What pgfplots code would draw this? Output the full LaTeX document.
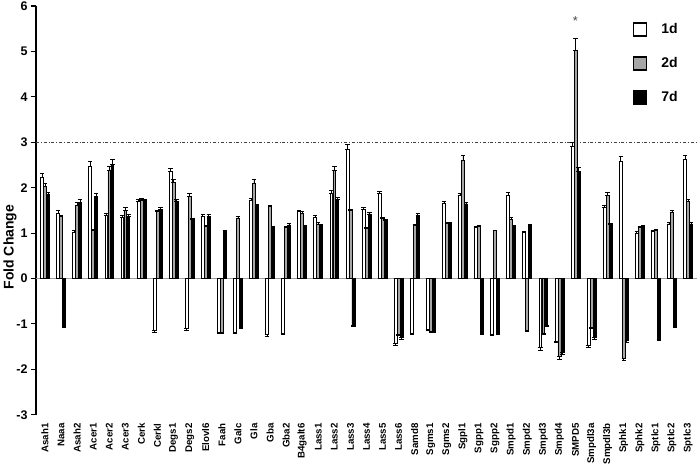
\documentclass[border=0pt]{standalone}
\usepackage{pgfplots}
\pgfplotsset{compat=1.18}
\usepackage{pgfplotstable}
\usepackage{fontspec}
\setmainfont{Liberation Sans}
\definecolor{bargray}{RGB}{166,166,166}
\definecolor{zerogray}{RGB}{160,160,160}

% x = gene index, y = fold change, ep/em = error up/down
\pgfplotstableread{
x y ep em
0 2.22 0.10 0
1 1.43 0.08 0
2 1.02 0.05 0
3 2.48 0.10 0
4 1.38 0.05 0
5 1.35 0.04 0
6 1.70 0.04 0
7 -1.15 0 0.03
8 2.35 0.08 0
9 -1.10 0 0.04
10 1.37 0.04 0
11 -1.18 0 0.03
12 -1.18 0 0.03
13 1.72 0.04 0
14 -1.24 0 0.03
15 -1.21 0 0.03
16 1.47 0.04 0
17 1.35 0.04 0
18 1.88 0.05 0
19 2.84 0.12 0
20 1.52 0.05 0
21 1.87 0.05 0
22 -1.43 0 0.04
23 -1.21 0 0.02
24 -1.12 0 0.02
25 1.65 0.05 0
26 1.83 0.05 0
27 1.13 0.02 0
28 -1.22 0 0.03
29 1.83 0.06 0
30 1.02 0.02 0
31 -1.52 0 0.06
32 -1.38 0 0.03
33 2.90 0.10 0
34 -1.47 0 0.04
35 1.57 0.05 0
36 2.58 0.12 0
37 1.00 0.03 0
38 1.03 0.02 0
39 1.20 0.03 0
40 2.62 0.10 0
}\tA

\pgfplotstableread{
x y ep em
0 2.02 0.08 0
1 1.36 0.03 0
2 1.62 0.06 0
3 1.05 0.03 0
4 2.38 0.10 0
5 1.50 0.06 0
6 1.73 0.04 0
7 1.47 0.03 0
8 2.12 0.06 0
9 1.80 0.08 0
10 1.14 0.03 0
11 -1.18 0 0.03
12 1.32 0.04 0
13 2.10 0.08 0
14 1.58 0.03 0
15 1.12 0.03 0
16 1.43 0.04 0
17 1.20 0.03 0
18 2.38 0.08 0
19 1.49 0.04 0
20 1.10 0.02 0
21 1.32 0.03 0
22 -1.22 0 0.03
23 1.16 0.03 0
24 -1.16 0 0.03
25 1.22 0.02 0
26 2.60 0.12 0
27 1.14 0.02 0
28 1.05 0.02 0
29 1.30 0.04 0
30 -1.14 0 0.03
31 -1.20 0 0.03
32 -1.72 0 0.06
33 5.02 0.26 0
34 -1.07 0 0.03
35 1.83 0.06 0
36 -1.75 0 0.06
37 1.12 0.03 0
38 1.06 0.03 0
39 1.45 0.06 0
40 1.69 0.06 0
}\tB

\pgfplotstableread{
x y ep em
0 1.85 0.05 0
1 -1.05 0 0.03
2 1.68 0.06 0
3 1.80 0.07 0
4 2.52 0.10 0
5 1.37 0.05 0
6 1.72 0.03 0
7 1.52 0.04 0
8 1.69 0.05 0
9 1.30 0.03 0
10 1.37 0.05 0
11 1.04 0.02 0
12 -1.07 0 0.02
13 1.60 0.03 0
14 1.12 0.02 0
15 1.18 0.04 0
16 1.15 0.03 0
17 1.18 0.02 0
18 1.74 0.04 0
19 -1.03 0 0.02
20 1.42 0.03 0
21 1.28 0.03 0
22 -1.30 0 0.04
23 1.39 0.04 0
24 -1.16 0 0.03
25 1.22 0.02 0
26 1.64 0.04 0
27 -1.21 0 0.03
28 -1.20 0 0.03
29 1.15 0.03 0
30 1.16 0.03 0
31 -1.04 0 0.02
32 -1.62 0 0.05
33 2.35 0.10 0
34 -1.30 0 0.04
35 1.20 0.02 0
36 -1.37 0 0.03
37 1.15 0.02 0
38 -1.34 0 0.03
39 -1.05 0 0.02
40 1.20 0.03 0
}\tC

\begin{document}
\begin{tikzpicture}
\begin{axis}[
  scale only axis,
  width=661pt, height=408.7pt,
  xmin=-0.56, xmax=40.56,
  ymin=-3, ymax=6,
  axis lines*=left,
  x axis line style={draw=none},
  y axis line style={black, line width=1.3pt},
  xtick={0,...,40},
  xticklabels={Asah1,Naaa,Asah2,Acer1,Acer2,Acer3,Cerk,Cerkl,Degs1,Degs2,Elovl6,Faah,Galc,Gla,Gba,Gba2,B4galt6,Lass1,Lass2,Lass3,Lass4,Lass5,Lass6,Samd8,Sgms1,Sgms2,Sgpl1,Sgpp1,Sgpp2,Smpd1,Smpd2,Smpd3,Smpd4,SMPD5,Smpdl3a,Smpdl3b,Sphk1,Sphk2,Sptlc1,Sptlc2,Sptlc3},
  xtick style={draw=none},
  x tick label style={rotate=90, anchor=east, font=\bfseries\fontsize{9.7}{9.7}\selectfont, inner sep=0.5pt},
  xticklabel shift=3pt,
  ytick={-3,...,6},
  tick align=outside,
  major tick length=5pt,
  ytick style={black, line width=1.1pt},
  y tick label style={font=\bfseries\fontsize{12.5}{12.5}\selectfont},
  /pgf/number format/assume math mode=true,
  ylabel={Fold Change},
  ylabel style={font=\bfseries\fontsize{14}{14}\selectfont, at={(rel axis cs:0,0.41)}, anchor=center, yshift=26pt},
  ybar=0.1pt, bar width=2.9pt,
  legend style={draw=none, fill=none, at={(rel axis cs:0.903,0.962)}, anchor=north west,
    font=\bfseries\fontsize{14}{14}\selectfont, row sep=18.3pt, inner sep=0pt,
    nodes={inner sep=2pt}, /tikz/column 1/.style={column sep=12pt}},
  legend cell align=left,
  legend image code/.code={\draw[#1, draw=black, line width=1.3pt] (0pt,-6.5pt) rectangle (13pt,6.5pt);},
  error bars/y dir=both, error bars/y explicit,
  error bars/error bar style={black, line width=0.7pt},
  error bars/error mark options={black, rotate=90, mark size=2.2pt, line width=0.7pt},
  clip=false,
]
\addplot[sharp plot, forget plot, zerogray, line width=1.3pt, no marks] coordinates {(-0.56,0) (40.56,0)};
\addplot[sharp plot, forget plot, black!75, line width=0.7pt, dash dot, no marks] coordinates {(-0.56,3) (40.56,3)};
\addplot[fill=white, draw=black, line width=0.7pt] table[x=x, y=y, y error plus=ep, y error minus=em] {\tA};
\addplot[fill=bargray, draw=black, line width=0.7pt] table[x=x, y=y, y error plus=ep, y error minus=em] {\tB};
\addplot[fill=black, draw=black, line width=0.7pt] table[x=x, y=y, y error plus=ep, y error minus=em] {\tC};
\legend{1d,2d,7d}
\node[font=\fontsize{13}{13}\selectfont, black!70] at (axis cs:33,5.68) {*};
\coordinate (O) at (rel axis cs:0,0);
\end{axis}
\pgfresetboundingbox
\path[use as bounding box] ([shift={(-36pt,-49.3pt)}]O) rectangle ++(700pt,464pt);
\end{tikzpicture}
\end{document}
